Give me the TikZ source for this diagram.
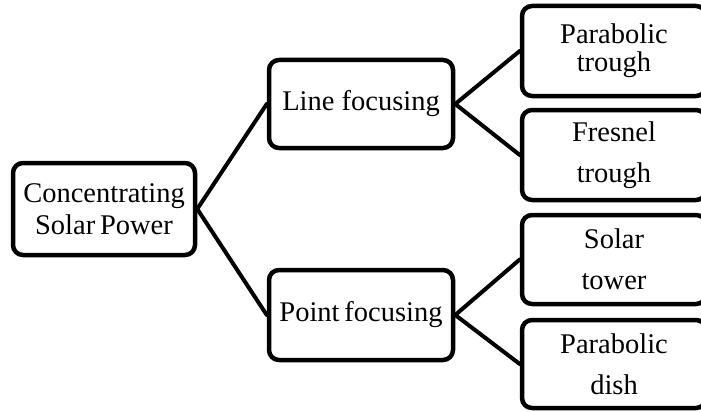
\documentclass[tikz,border=0pt]{standalone}
\usepackage{fontspec}
\setmainfont{Liberation Serif}
\begin{document}
\begin{tikzpicture}[x=1pt,y=-1pt,
  box/.style={draw=black, line width=4.5pt, rounded corners=10pt, inner sep=0pt,
    align=center, fill=white, font=\fontsize{28.5}{28}\selectfont},
  link/.style={draw=black, line width=4pt, line cap=round}]
\path[use as bounding box, clip] (0,0) rectangle (701,412);
\fill[white] (0,0) rectangle (701,412);
\node[box, minimum width=182pt, minimum height=92pt] (root) at (104,209) {Concentrating\\[4pt]Solar\,Power};
\node[box, minimum width=184pt, minimum height=88pt] (lf) at (361,104) {Line focusing};
\node[box, minimum width=184pt, minimum height=90pt] (pf) at (361,315) {Point\,focusing};
\node[box, minimum width=184pt, minimum height=90pt] (pt) at (614,51) {Parabolic\\trough};
\node[box, minimum width=184pt, minimum height=90pt] (ft) at (614,155) {Fresnel\\[13pt]trough};
\node[box, minimum width=184pt, minimum height=89pt] (st) at (614,259.5) {Solar\\[13pt]tower};
\node[box, minimum width=184pt, minimum height=88pt] (pd) at (614,364) {Parabolic\\[13pt]dish};
\draw[link] (root.east) -- (lf.west);
\draw[link] (root.east) -- (pf.west);
\draw[link] (lf.east) -- (pt.west);
\draw[link] (lf.east) -- (ft.west);
\draw[link] (pf.east) -- (st.west);
\draw[link] (pf.east) -- (pd.west);
\end{tikzpicture}
\end{document}
